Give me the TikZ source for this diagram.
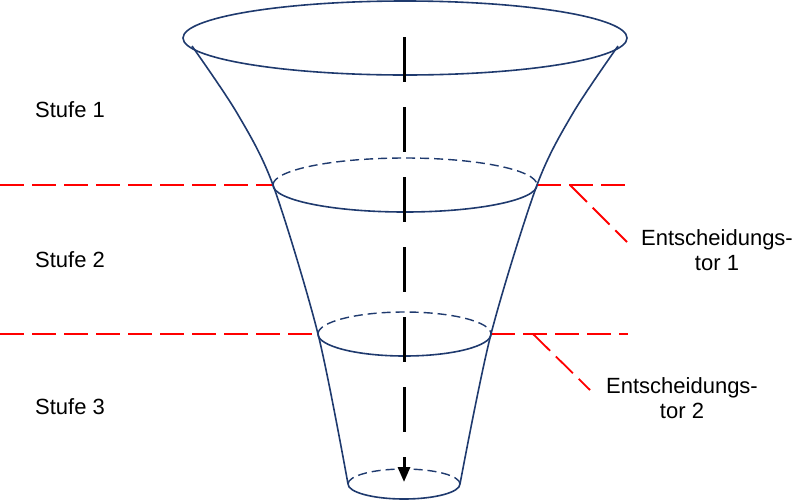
\documentclass[tikz,border=0pt]{standalone}
\usepackage{fontspec}
\setmainfont{Liberation Sans}
\usetikzlibrary{arrows.meta}
\definecolor{funnelblue}{HTML}{1F3A6E}
\tikzstyle{rim} = [draw=funnelblue, line width=1.6pt]
\tikzstyle{backrim} = [draw=funnelblue, line width=1.4pt, dash pattern=on 9pt off 5pt]
\tikzstyle{gate} = [draw=red, line width=1.8pt, dash pattern=on 24pt off 8pt]
\tikzstyle{stage} = [anchor=base west, inner sep=0pt, font=\fontsize{22}{25}\selectfont]
\tikzstyle{gatetext} = [anchor=base, align=center, inner sep=0pt, font=\fontsize{22}{25}\selectfont]
\tikzstyle{arrow} = [line width=3pt, dash pattern=on 45pt off 25pt, -{Triangle[length=15pt,width=12pt]}]

\begin{document}
\begin{tikzpicture}[x=1pt, y=-1pt]
\useasboundingbox (0,0) rectangle (800,499);

% points on the funnel
\coordinate (top) at (405,38);
\coordinate (l1) at (273,185);
\coordinate (r1) at (537,185);
\coordinate (l2) at (318,334);
\coordinate (r2) at (491,334);
\coordinate (l3) at (348,484);
\coordinate (r3) at (460,484);

% gates
\coordinate (g1a) at (570,185);
\coordinate (g1b) at (627,242);
\coordinate (g2a) at (533,334);
\coordinate (g2b) at (590,390);
\draw [gate] (0,185) -- (l1);
\draw [gate] (r1) -- (628,185);
\draw [gate] (g1a) -- (g1b);
\draw [gate] (0,334) -- (l2);
\draw [gate] (r2) -- (628,334);
\draw [gate] (g2a) -- (g2b);

% funnel
\draw [rim] plot[smooth] coordinates {(192,46) (237,113) (l1) (l2) (l3)};
\draw [rim] plot[smooth] coordinates {(618,46) (573,113) (r1) (r2) (r3)};
\draw [rim] (top) ellipse [x radius=222, y radius=37];
\draw [backrim] (l1) arc [start angle=180, end angle=360, x radius=132, y radius=27];
\draw [rim] (l1) arc [start angle=180, end angle=0, x radius=132, y radius=27];
\draw [backrim] (l2) arc [start angle=180, end angle=360, x radius=86.5, y radius=22];
\draw [rim] (l2) arc [start angle=180, end angle=0, x radius=86.5, y radius=22];
\draw [backrim] (l3) arc [start angle=180, end angle=360, x radius=56, y radius=15];
\draw [rim] (l3) arc [start angle=180, end angle=0, x radius=56, y radius=15];

% labels
\node (s1) at (35,117) [stage] {Stufe 1};
\node (s2) at (35,267) [stage] {Stufe 2};
\node (s3) at (35,414) [stage] {Stufe 3};
\node (t1) at (717,270) [gatetext] {Entscheidungs-\\tor 1};
\node (t2) at (682,418) [gatetext] {Entscheidungs-\\tor 2};

% arrow
\coordinate (a0) at (404,37);
\coordinate (a1) at (404,482);
\draw [arrow] (a0) -- (a1);

\end{tikzpicture}
\end{document}
